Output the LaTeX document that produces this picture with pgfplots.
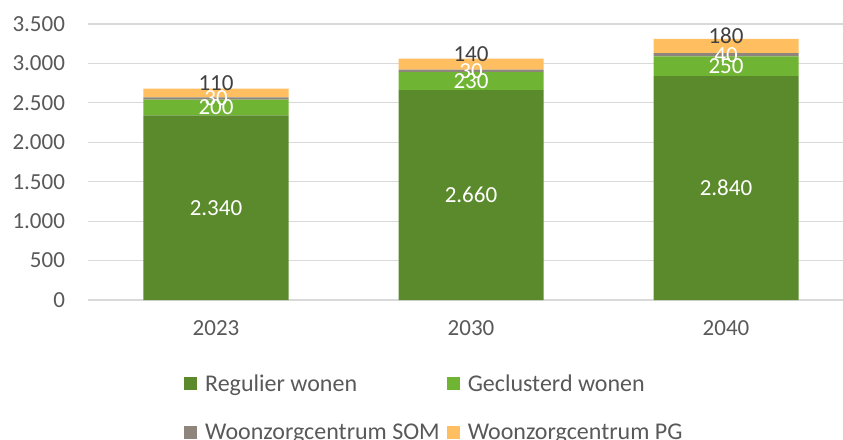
\documentclass[border=0pt]{standalone}
\usepackage{fontspec}
\setmainfont{Carlito}
\usepackage{pgfplots}
\pgfplotsset{compat=1.18}
\definecolor{regulier}{HTML}{5B8A2C}
\definecolor{geclusterd}{HTML}{70B433}
\definecolor{som}{HTML}{8E857D}
\definecolor{pg}{HTML}{FFBF60}
\definecolor{txt}{HTML}{595959}
\definecolor{toptxt}{HTML}{404040}
\definecolor{gridc}{HTML}{D9D9D9}
\pgfplotsset{/pgf/number format/.cd, 1000 sep={.}, assume math mode=true}
\newcommand{\lbl}{\fontsize{23}{27}\selectfont}
\newcommand{\leg}{\fontsize{24}{28}\selectfont}
\begin{document}
\begin{tikzpicture}
\begin{axis}[
    scale only axis, width=765pt, height=276pt,
    xmin=-0.5, xmax=2.5, ymin=0, ymax=3500,
    ybar stacked, bar width=145pt,
    xtick={0,1,2}, xticklabels={2023,2030,2040},
    ytick={0,500,...,3500},
    ymajorgrids, grid style={gridc, line width=1.2pt},
    axis line style={draw=none},
    major tick length=0pt,
    tick label style={text=txt, font=\lbl},
    yticklabel style={xshift=-20pt},
    xticklabel style={yshift=-17pt},
    clip=false,
    nodes near coords,
    every node near coord/.append style={anchor=center, font=\lbl},
    legend columns=2,
    legend cell align=left,
    legend style={draw=none, fill=none, inner sep=0pt, font=\leg, text=txt,
        at={(axis description cs:0.1248,-0.262)}, anchor=north west,
        /tikz/every odd column/.append style={column sep=6pt},
        /tikz/every even column/.append style={column sep=5pt},
        row sep=27pt},
    legend image code/.code={\fill[#1] (0pt,-6.5pt) rectangle (13pt,6.5pt);},
]
\addplot[fill=regulier, draw=none, every node near coord/.append style={text=white}]
    coordinates {(0,2340) (1,2660) (2,2840)};
\addplot[fill=geclusterd, draw=none, every node near coord/.append style={text=white}]
    coordinates {(0,200) (1,230) (2,250)};
\addplot[fill=som, draw=none, every node near coord/.append style={text=white}]
    coordinates {(0,30) (1,30) (2,40)};
\addplot[fill=pg, draw=none, every node near coord/.append style={text=toptxt, yshift=10pt}]
    coordinates {(0,110) (1,140) (2,180)};
\legend{Regulier wonen, Geclusterd wonen, Woonzorgcentrum SOM, Woonzorgcentrum PG}
\end{axis}
\pgfresetboundingbox
\path[use as bounding box] (-88.5pt,-139pt) rectangle (754.5pt,300pt);
\end{tikzpicture}
\end{document}
